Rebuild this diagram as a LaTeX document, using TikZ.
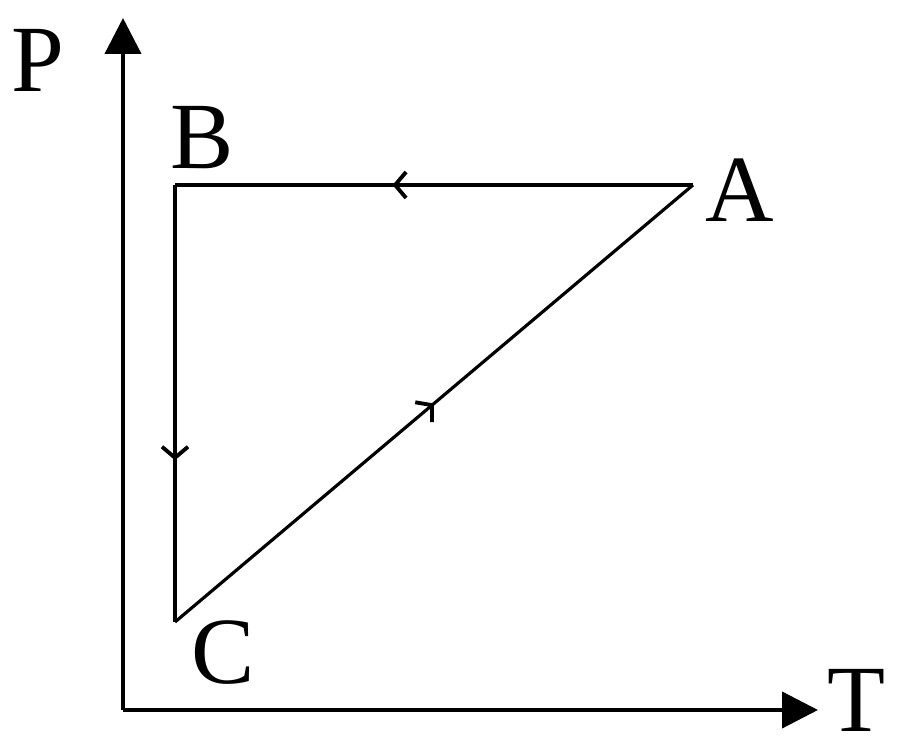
\documentclass[tikz,border=0pt]{standalone}
\usepackage{fontspec}
\setmainfont{Liberation Serif}
\usetikzlibrary{arrows.meta,decorations.markings}
\tikzset{
	axis/.style={line width=1.2pt,-{Triangle[length=0.36cm,width=0.36cm]}},
	leg/.style={line width=0.9pt},
	midarrow/.style={postaction={decorate},decoration={markings,
		mark=at position #1 with {\arrow{Straight Barb[length=0.11cm,width=0.26cm,line width=1.1pt]}}}},
	lbl/.style={inner sep=0pt,font=\fontsize{27}{27}\selectfont}
}
\begin{document}
\begin{tikzpicture}
			\useasboundingbox (0,0) rectangle (9,7.56);
			\coordinate (org) at (1.23,0.46);
			\coordinate (ptop) at (1.23,7.38);
			\coordinate (tend) at (8.18,0.46);
			\coordinate (ptA) at (6.93,5.71);
			\coordinate (ptB) at (1.75,5.71);
			\coordinate (ptC) at (1.75,1.34);
			\draw[axis] (org) -- (ptop);
			\draw[axis] (org) -- (tend);
			\draw[leg,midarrow=0.58] (ptA) -- (ptB);
			\draw[leg,midarrow=0.63] (ptB) -- (ptC);
			\draw[leg,midarrow=0.5] (ptC) -- (ptA);
			\node[lbl] (labP) at (0.38,6.96) {P};
			\node[lbl] (labT) at (8.56,0.56) {T};
			\node[lbl] (labA) at (7.40,5.66) {A};
			\node[lbl] (labB) at (2.02,6.18) {B};
			\node[lbl] (labC) at (2.23,1.03) {C};
		\end{tikzpicture}
\end{document}
